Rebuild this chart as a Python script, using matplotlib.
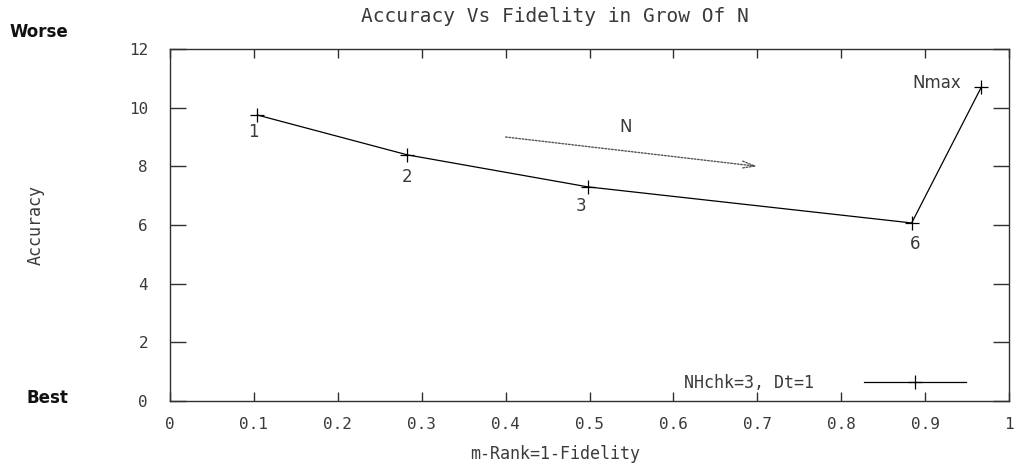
import matplotlib
matplotlib.use("Agg")
import matplotlib.pyplot as plt
from matplotlib.ticker import FixedLocator, FuncFormatter

# Measured accuracy versus m-rank (1 - fidelity) as N grows
n_labels = ["1", "2", "3", "6", "Nmax"]
m_rank = [0.104, 0.283, 0.498, 0.884, 0.967]
accuracy = [9.75, 8.39, 7.30, 6.07, 10.70]

# Direction of growing N
arrow_start = (0.40, 9.0)
arrow_end = (0.70, 8.0)

x_ticks = [0, 0.1, 0.2, 0.3, 0.4, 0.5, 0.6, 0.7, 0.8, 0.9, 1.0]
y_ticks = [0, 2, 4, 6, 8, 10, 12]
series_name = "NHchk=3, Dt=1"

W, H, DPI = 1023, 468, 100
PX = 72.0 / DPI  # points per pixel

mono = "DejaVu Sans Mono"
txt_col = "#3a3a3a"
axis_col = "#303030"

fig = plt.figure(figsize=(W / DPI, H / DPI), dpi=DPI)
ax = fig.add_axes([170 / W, 1 - 401 / H, (1009 - 170) / W, (401 - 49) / H])

ax.plot(m_rank, accuracy, color="black", lw=0.9, marker="+", ms=10,
        mew=0.9, label=series_name)

ax.set_xlim(0, 1)
ax.set_ylim(0, 12)
ax.xaxis.set_major_locator(FixedLocator(x_ticks))
ax.yaxis.set_major_locator(FixedLocator(y_ticks))
ax.xaxis.set_major_formatter(FuncFormatter(lambda v, p: f"{v:g}"))
ax.yaxis.set_major_formatter(FuncFormatter(lambda v, p: f"{v:g}"))

for s in ax.spines.values():
    s.set_color(axis_col)
    s.set_linewidth(1.0)

ax.tick_params(axis="x", direction="in", top=True, bottom=True,
               length=9 * PX, width=1.0, color=axis_col,
               pad=16 * PX, labelsize=11.5, labelcolor=txt_col)
ax.tick_params(axis="y", direction="in", left=True, right=True,
               length=16 * PX, width=1.0, color=axis_col,
               pad=22 * PX, labelsize=11.5, labelcolor=txt_col)
for lab in ax.get_xticklabels() + ax.get_yticklabels():
    lab.set_fontfamily(mono)

ax.set_xlabel("m-Rank=1-Fidelity", fontsize=12, family=mono, color=txt_col)
ax.xaxis.set_label_coords((555 - 170) / 839, (401 - 445) / 352)
ax.set_ylabel("Accuracy", fontsize=12, family=mono, color=txt_col)
ax.yaxis.set_label_coords((45 - 170) / 839, 0.5)

# Point labels
offsets = {
    "1": (-4, -17, "center"),
    "2": (0, -22, "center"),
    "3": (-7, -19, "center"),
    "6": (3, -21, "center"),
    "Nmax": (-20, 4, "right"),
}
for name, xv, yv in zip(n_labels, m_rank, accuracy):
    dx, dy, ha = offsets[name]
    ax.annotate(name, (xv, yv), xytext=(dx * PX, dy * PX),
                textcoords="offset points", ha=ha, va="center",
                fontsize=12, color=txt_col, family="DejaVu Sans")

# Growth direction arrow
ax.annotate("", xy=arrow_end, xytext=arrow_start,
            arrowprops=dict(arrowstyle="->,head_length=0.9,head_width=0.25",
                            linestyle=(0, (1.2, 1.2)), color="#555555",
                            lw=1.0, shrinkA=0, shrinkB=0))
ax.text(0.543, 9.34, "N", ha="center", va="center", fontsize=12,
        color=txt_col, family="DejaVu Sans")

leg = ax.legend(loc="lower right", bbox_to_anchor=(1 - 28 / 839, -6 / 352),
                frameon=False, markerfirst=False, numpoints=1,
                handlelength=6.1, handletextpad=3.0,
                prop={"family": mono, "size": 12})
for t in leg.get_texts():
    t.set_color(txt_col)

fig.text(555 / W, 1 - 17 / H, "Accuracy Vs Fidelity in Grow Of N",
         ha="center", va="center", fontsize=14, family=mono, color=txt_col)
fig.text(10 / W, 1 - 32 / H, "Worse", ha="left", va="center",
         fontsize=12, fontweight="bold", family="DejaVu Sans", color="#111111")
fig.text(26 / W, 1 - 398 / H, "Best", ha="left", va="center",
         fontsize=12, fontweight="bold", family="DejaVu Sans", color="#111111")

fig.savefig("out.png", dpi=DPI, facecolor="white")
